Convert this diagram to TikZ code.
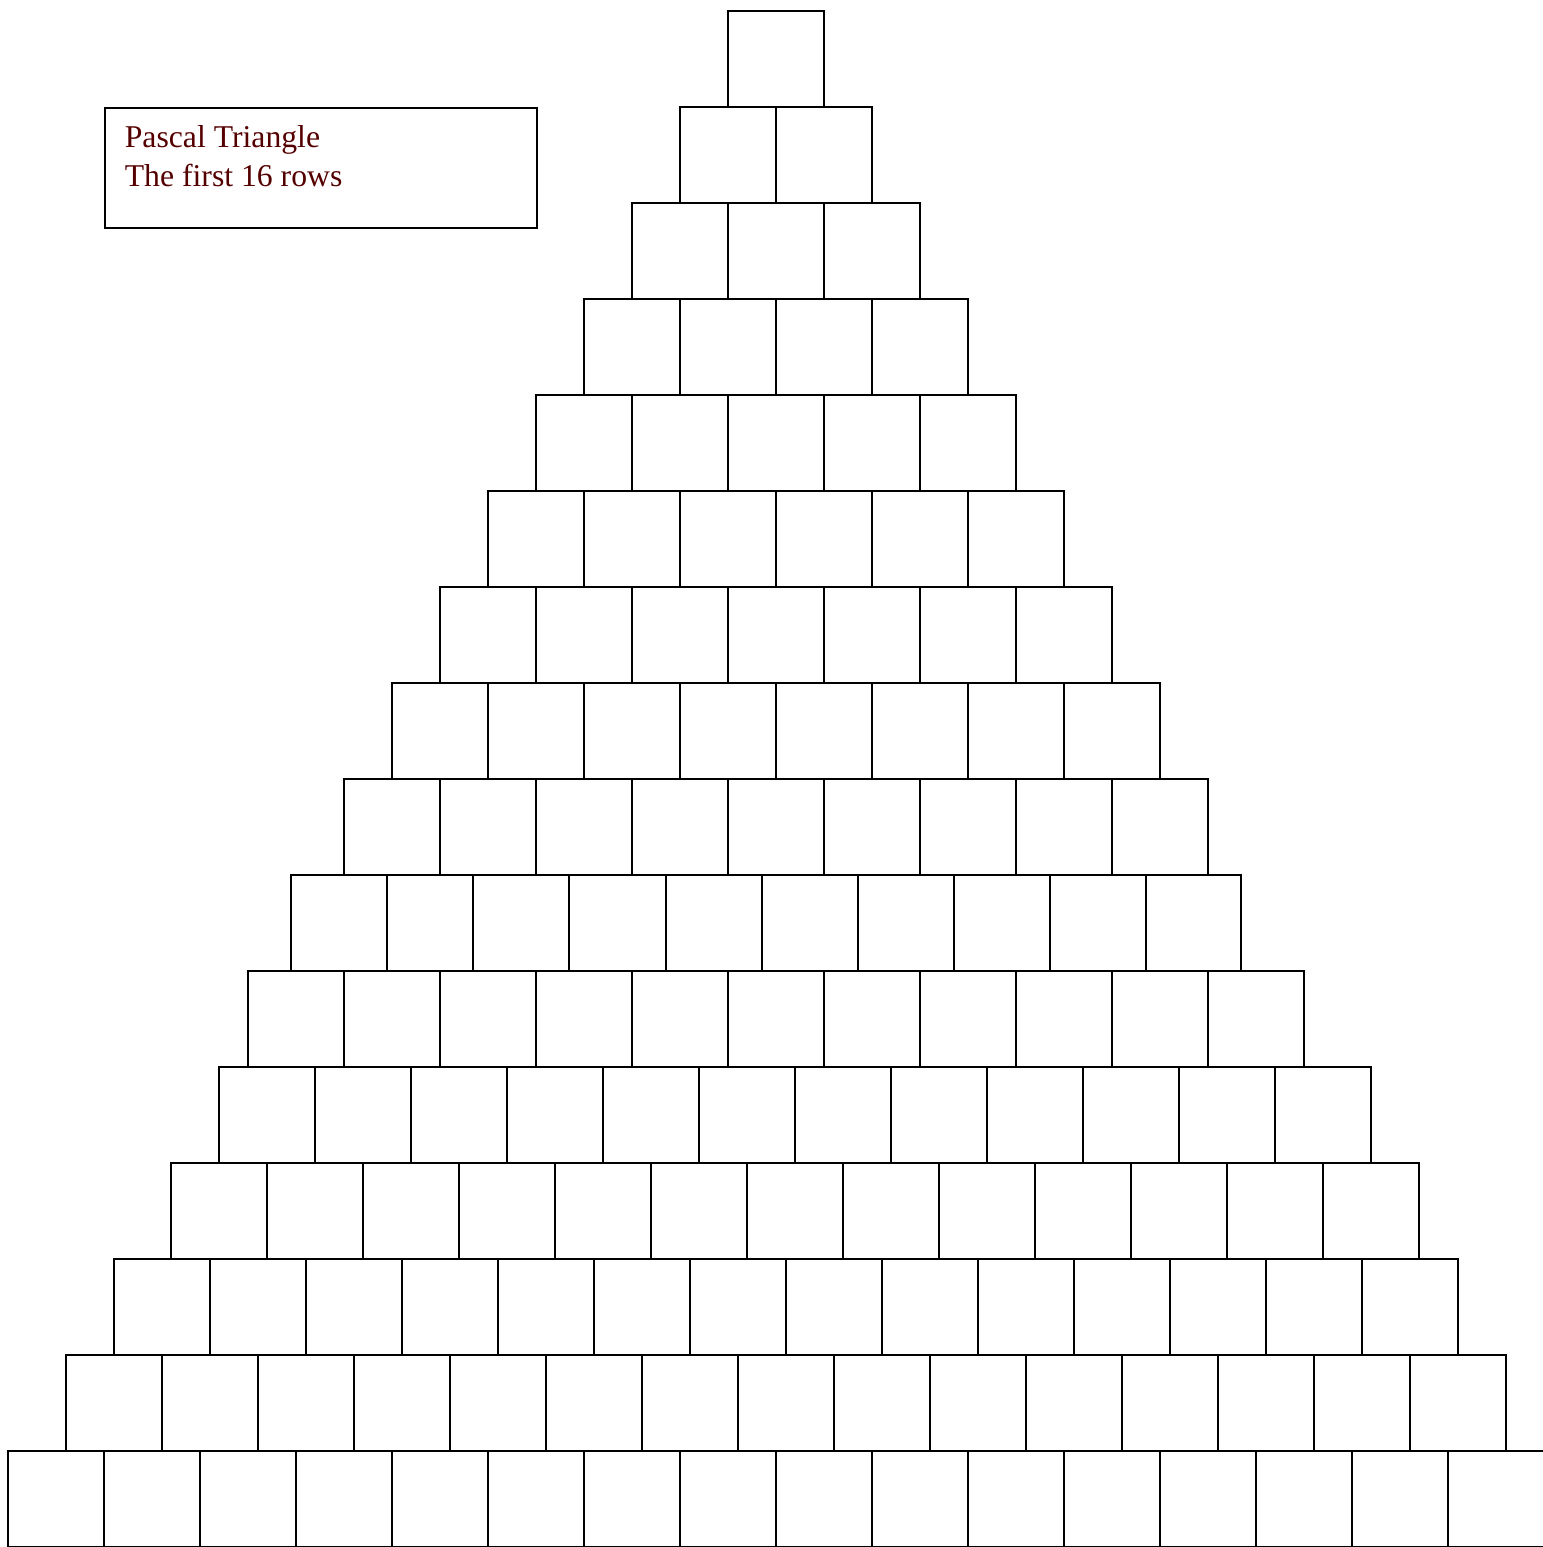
\documentclass[tikz,border=0pt]{standalone}
\usepackage{fontspec}
\setmainfont{Liberation Serif}
\usetikzlibrary{positioning}
\definecolor{titlered}{RGB}{85,0,0}
\tikzset{
    cell/.style={draw, minimum size=1cm, inner sep=0pt, line width=0.6pt},
    titlebox/.style={draw, minimum width=4.5cm, minimum height=1.25cm, inner sep=0pt, line width=0.6pt}
}
\begin{document}
\begin{tikzpicture}
                \useasboundingbox (0,0) rectangle (16.073,-16.115);
                % Rows of cells (row 10 comes separately)
                \foreach \r/\dx in {1/0, 2/0, 3/0, 4/0, 5/0, 6/0, 7/0, 8/0, 9/0, 11/0, 12/0.198, 13/0.198, 14/0.104, 15/0.104, 16/0} {
                    \pgfmathtruncatemacro{\n}{\r-1}
                    \foreach \k in {0,...,\n}
                        \node[cell] (c\r-\k) at ({7.5833-0.5*(\r-1)+\dx+\k+0.5}, {-(\r-1)-0.6146}) {};
                }
                
                % Row 10
                \foreach \k/\a/\b in {0/291/387, 1/387/473, 2/473/569, 3/569/666, 4/666/762, 5/762/858, 6/858/954, 7/954/1050, 8/1050/1146, 9/1146/1241}
                    \node[cell, minimum width={(\b-\a)/96*1cm}] (c10-\k) at ({(\a+\b)/192}, -9.6146) {};
                
                % Title
                \node[titlebox, anchor=north west] (title) at (1.0833, -1.1146) {};
                \node[inner sep=0pt, align=left, text=titlered, font=\fontsize{9.4pt}{11.4pt}\selectfont, below right=0.19cm and 0.21cm of title.north west] (titletext) {Pascal Triangle\\The first 16 rows};
            \end{tikzpicture}
\end{document}
